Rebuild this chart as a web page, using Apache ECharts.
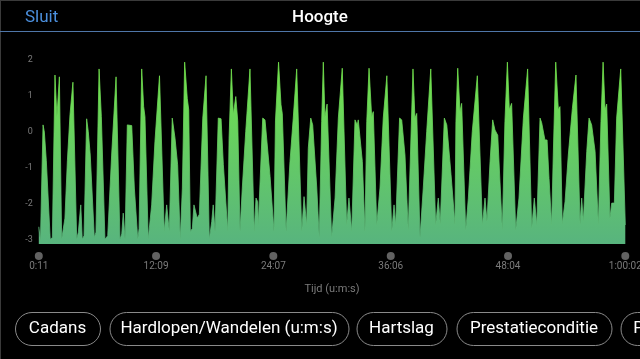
<!DOCTYPE html>
<html><head><meta charset="utf-8">
<script src="https://cdn.jsdelivr.net/npm/echarts@6/dist/echarts.min.js"></script>
<style>html,body{margin:0;padding:0;background:#000;overflow:hidden}#c{width:640px;height:359px}</style>
</head><body><div id="c"></div><script>
// elapsed time in seconds
const timeSeconds = [
11,21,37,45,57,65,81,94,110,122,137,151,163,171,186,202,220,243,253,268,277,288,304,314,326,351,361,380,394,402,416,433,457,484,508,519,528,539,553,580,596,617,625,641,653,661,681,702,722,750,
779,794,804,810,828,845,861,877,890,904,920,929,939,951,961,969,981,994,1015,1035,1055,1070,1079,1090,1110,1127,1141,1168,1176,1190,1202,1217,1229,1243,1257,1278,1304,1330,1341,1351,1355,1382,1396,1427,1451,1460,1479,
1494,1502,1525,1549,1569,1590,1621,1635,1651,1661,1676,1688,1713,1728,1743,1753,1763,1776,1804,1825,1845,1869,1896,1910,1927,1947,1961,1967,1992,2008,2019,2033,2049,2059,2080,2100,2120,2142,2172,2186,2196,2220,
2233,2253,2273,2302,2314,2325,2345,2365,2386,2411,2441,2457,2469,2494,2509,2535,2559,2565,2576,2590,2600,2625,2641,2665,2696,2727,2743,2755,2774,2790,2804,2821,2849,2865,2880,2892,2906,2931,
2951,2978,3004,3029,3045,3060,3080,3090,3110,3123,3135,3151,3161,3176,3192,3202,3216,3233,3253,3278,3300,3325,3335,3345,3366,3380,3396,3417,3437,3453,3466,3478,3488,3508,3519,3535,3549,3574,3602
];
// altitude (Hoogte)
const altitude = [
-2.65,-3.05,0.19,-0.01,-0.81,-0.83,-3.0,-2.95,1.58,0.42,1.53,-3.0,-2.95,-2.41,-0.81,0.47,1.38,-3.0,-2.8,-2.04,-3.0,-2.9,0.36,0.0,-0.65,-2.95,-2.8,1.75,0.42,0.38,-3.0,-2.9,-0.65,1.53,-3.0,-2.85,-2.27,-3.0,0.19,0.17,-1.57,-3.0,-2.7,1.75,0.70,0.42,-3.0,-2.04,-0.28,1.56,
-2.78,-2.04,-2.06,-2.78,0.38,-0.18,-0.92,-3.0,-1.57,1.94,0.93,0.61,-2.78,-2.7,-2.04,-2.06,-2.41,-2.3,0.38,1.56,-3.0,-2.5,-2.04,-2.78,0.38,0.36,-0.92,-2.78,-0.18,1.75,0.47,0.98,0.3,-2.78,-1.57,0.0,1.75,-2.78,-1.85,-1.95,-2.6,0.38,0.33,-1.25,-2.78,0.3,1.94,
0.75,0.5,-2.78,-0.83,0.38,1.75,-2.78,-1.81,-2.6,-0.46,0.38,0.19,-1.57,-2.95,0.28,1.94,0.42,0.77,-2.95,-1.85,0.38,1.77,-2.6,-1.85,-2.78,0.33,0.19,0.33,-0.83,-2.78,0.28,1.77,0.42,0.56,-2.6,-1.57,0.38,1.56,-2.78,-2.04,-2.6,0.38,
0.33,-0.65,-2.75,1.75,0.38,0.51,-2.95,-1.57,0.0,1.75,-2.6,-1.85,-2.57,0.38,0.19,-1.2,-2.57,0.28,1.77,0.56,0.79,-2.75,-1.85,0.0,1.56,-2.6,-1.85,-2.5,-0.83,0.33,0.05,-0.1,-2.75,0.28,1.94,0.61,0.79,-2.75,
-1.85,0.38,1.75,-2.7,-1.85,-2.6,0.38,0.25,-0.23,-0.23,-1.3,-2.6,-0.65,1.94,0.61,0.70,-2.57,-1.95,-0.65,0.65,1.58,-2.57,-1.85,-2.5,-0.55,0.38,0.19,-0.55,-2.6,0.28,1.94,0.61,0.77,-2.41,-1.99,-1.99,0.38,1.75,-2.6
];
const xTickSeconds = [11, 729, 1447, 2166, 2884, 3602];
const xTickLabels = ['0:11', '12:09', '24:07', '36:06', '48:04', '1:00:02'];
const yTickValues = [-3, -2, -1, 0, 1, 2];
const buttonLabels = ['Cadans', 'Hardlopen/Wandelen (u:m:s)', 'Hartslag', 'Prestatieconditie', 'Paslengte'];
const chartTitle = 'Hoogte';
const backLabel = 'Sluit';
const xAxisTitle = 'Tijd (u:m:s)';

const seriesData = timeSeconds.map((t, i) => [t, altitude[i]]);
const tickDots = xTickSeconds.map(t => [t, 0]);

const FONT = 'Roboto, "Noto Sans", sans-serif';
const GRAY = '#7b7b7b';

// pill buttons layout
const pillBoxes = [[15, 85], [109.5, 239], [356.5, 90], [456.5, 155], [620.5, 101]];
const pillGraphics = [];
buttonLabels.forEach((lab, i) => {
  const [px, pw] = pillBoxes[i];
  pillGraphics.push({
    type: 'rect', shape: { x: px + 0.5, y: 312.5, width: pw, height: 33, r: 16.5 },
    style: { fill: 'transparent', stroke: '#8a8a8a', lineWidth: 1 }, silent: true
  });
  pillGraphics.push({
    type: 'text', x: px + pw / 2, y: 329,
    style: { text: lab, fill: '#ffffff', font: '17px ' + FONT, align: 'center', verticalAlign: 'middle' }, silent: true
  });
});

const chart = echarts.init(document.getElementById('c'), null, { renderer: 'canvas' });
chart.setOption({
  backgroundColor: '#000',
  animation: false,
  title: [
    { text: chartTitle, left: 'center', top: 4, textStyle: { color: '#fff', fontSize: 17, fontWeight: 500, fontFamily: FONT } },
    { text: backLabel, left: 20, top: 4, textStyle: { color: '#4b8fdd', fontSize: 17, fontWeight: 'normal', fontFamily: FONT } }
  ],
  grid: [
    { left: 38.8, width: 586.5, top: 52.8, height: 191.2, containLabel: false, outerBoundsMode: 'none' },
    { left: 38.8, width: 586.5, top: 252, height: 8, containLabel: false, outerBoundsMode: 'none' }
  ],
  xAxis: [
    { type: 'value', gridIndex: 0, min: 11, max: 3602, show: false, splitLine: { show: false } },
    {
      type: 'value', gridIndex: 1, min: 11, max: 3602,
      axisLine: { show: false }, axisTick: { show: false }, splitLine: { show: false },
      axisLabel: {
        customValues: xTickSeconds, color: GRAY, fontSize: 10, fontFamily: FONT, margin: 1,
        formatter: v => { const k = xTickSeconds.indexOf(v); return k >= 0 ? xTickLabels[k] : ''; }
      },
      name: xAxisTitle, nameLocation: 'middle', nameGap: 24,
      nameTextStyle: { color: GRAY, fontSize: 11, fontFamily: FONT }
    }
  ],
  yAxis: [
    {
      type: 'value', gridIndex: 0, min: -3.13, max: 2.2,
      axisLine: { show: false }, axisTick: { show: false }, splitLine: { show: false },
      axisLabel: { customValues: yTickValues, color: GRAY, fontSize: 9, fontFamily: FONT, margin: 6 }
    },
    { type: 'value', gridIndex: 1, min: -1, max: 1, show: false }
  ],
  series: [
    {
      type: 'line', xAxisIndex: 0, yAxisIndex: 0, data: seriesData,
      showSymbol: false, smooth: false,
      lineStyle: { width: 0.8, color: new echarts.graphic.LinearGradient(0, 0, 0, 1, [{ offset: 0, color: '#74e64a' }, { offset: 1, color: '#5ab57c' }]) },
      areaStyle: { opacity: 1, origin: 'start', color: new echarts.graphic.LinearGradient(0, 0, 0, 1, [{ offset: 0, color: '#72e44a' }, { offset: 1, color: '#58b47e' }]) }
    },
    {
      type: 'scatter', xAxisIndex: 1, yAxisIndex: 1, data: tickDots, clip: false,
      symbol: 'circle', symbolSize: 8, itemStyle: { color: GRAY }, silent: true
    }
  ],
  graphic: [
    { type: 'line', shape: { x1: 0, y1: 0.5, x2: 640, y2: 0.5 }, style: { stroke: '#3a3a3a', lineWidth: 1 }, silent: true },
    { type: 'line', shape: { x1: 0.5, y1: 0, x2: 0.5, y2: 359 }, style: { stroke: '#3a3a3a', lineWidth: 1 }, silent: true },
    { type: 'line', shape: { x1: 0, y1: 31.5, x2: 640, y2: 31.5 }, style: { stroke: '#4f76a8', lineWidth: 1 }, silent: true }
  ].concat(pillGraphics)
});
</script></body></html>
